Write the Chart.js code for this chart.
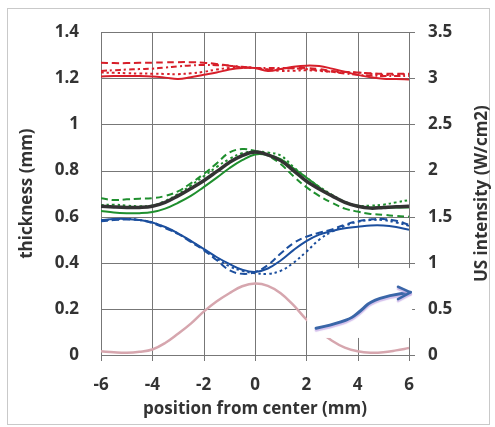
<!DOCTYPE html>
<html>
<head>
<meta charset="utf-8">
<script src="https://cdn.jsdelivr.net/npm/chart.js@4/dist/chart.umd.min.js"></script>
<style>
  html, body { margin: 0; padding: 0; background: #fff; }
  #chart { display: block; }
</style>
</head>
<body>
<canvas id="chart" width="495" height="427"></canvas>
<script>
// positions (mm), sampled every 0.5 mm
var positions = [-6, -5.5, -5, -4.5, -4, -3.5, -3, -2.5, -2, -1.5, -1, -0.5, 0,
                 0.5, 1, 1.5, 2, 2.5, 3, 3.5, 4, 4.5, 5, 5.5, 6];

// thickness (mm), left axis
var modelFit = [0.645, 0.642, 0.640, 0.640, 0.645, 0.662, 0.690, 0.722, 0.756, 0.795, 0.835, 0.865, 0.880,
                0.868, 0.843, 0.800, 0.754, 0.720, 0.690, 0.662, 0.645, 0.637, 0.640, 0.643, 0.645];

var redSolid  = [1.208, 1.210, 1.210, 1.210, 1.208, 1.203, 1.197, 1.205, 1.215, 1.225, 1.238, 1.245, 1.245,
                 1.232, 1.240, 1.250, 1.255, 1.253, 1.242, 1.228, 1.215, 1.205, 1.198, 1.197, 1.195];
var redDashed = [1.268, 1.266, 1.266, 1.267, 1.268, 1.269, 1.270, 1.270, 1.268, 1.262, 1.255, 1.248, 1.245,
                 1.238, 1.240, 1.245, 1.245, 1.240, 1.232, 1.228, 1.225, 1.222, 1.220, 1.220, 1.220];
var redDotted = [1.225, 1.224, 1.222, 1.221, 1.220, 1.219, 1.218, 1.222, 1.228, 1.238, 1.245, 1.248, 1.245,
                 1.238, 1.232, 1.233, 1.235, 1.232, 1.228, 1.226, 1.225, 1.220, 1.215, 1.216, 1.218];
var redDashDot = [1.232, 1.235, 1.238, 1.240, 1.242, 1.247, 1.252, 1.256, 1.258, 1.257, 1.255, 1.250, 1.245,
                  1.245, 1.245, 1.243, 1.240, 1.235, 1.228, 1.221, 1.215, 1.212, 1.210, 1.210, 1.210];

var greenSolid  = [0.625, 0.618, 0.615, 0.615, 0.620, 0.635, 0.660, 0.690, 0.728, 0.768, 0.810, 0.845, 0.870,
                   0.868, 0.850, 0.810, 0.770, 0.728, 0.690, 0.662, 0.645, 0.640, 0.640, 0.640, 0.640];
var greenDashed = [0.680, 0.672, 0.675, 0.678, 0.680, 0.690, 0.710, 0.745, 0.785, 0.830, 0.878, 0.893, 0.885,
                   0.865, 0.828, 0.775, 0.728, 0.690, 0.660, 0.635, 0.622, 0.612, 0.608, 0.603, 0.600];
var greenDotted = [0.650, 0.652, 0.648, 0.645, 0.648, 0.668, 0.698, 0.735, 0.775, 0.815, 0.850, 0.875, 0.882,
                   0.878, 0.865, 0.815, 0.770, 0.730, 0.695, 0.665, 0.648, 0.648, 0.652, 0.662, 0.672];

var blueSolid  = [0.585, 0.590, 0.590, 0.585, 0.575, 0.555, 0.528, 0.495, 0.460, 0.425, 0.395, 0.370, 0.360,
                  0.375, 0.410, 0.455, 0.494, 0.522, 0.538, 0.550, 0.556, 0.562, 0.562, 0.555, 0.543];
var blueDashed = [0.580, 0.585, 0.588, 0.585, 0.572, 0.550, 0.525, 0.490, 0.455, 0.412, 0.368, 0.352, 0.360,
                  0.390, 0.440, 0.485, 0.513, 0.530, 0.545, 0.565, 0.580, 0.588, 0.590, 0.582, 0.565];
var blueDotted = [0.583, 0.588, 0.590, 0.586, 0.575, 0.553, 0.527, 0.493, 0.458, 0.420, 0.385, 0.365, 0.355,
                  0.352, 0.365, 0.400, 0.448, 0.500, 0.535, 0.560, 0.578, 0.585, 0.585, 0.575, 0.560];

// US intensity (W/cm2), right axis
var usIntensity = [0.040, 0.030, 0.025, 0.035, 0.060, 0.130, 0.230, 0.340, 0.470, 0.580, 0.670, 0.745, 0.775,
                   0.750, 0.670, 0.540, 0.385, 0.260, 0.155, 0.080, 0.040, 0.025, 0.030, 0.050, 0.075];

var leftTicks = [0, 0.2, 0.4, 0.6, 0.8, 1, 1.2, 1.4];
var rightTicks = [0, 0.5, 1, 1.5, 2, 2.5, 3, 3.5];
var xTicks = [-6, -4, -2, 0, 2, 4, 6];

// hand-drawn arrow pointing at the right axis, in (mm, thickness) units
var arrowPath = [[2.38, 0.116], [3.57, 0.144], [4.16, 0.195], [4.48, 0.231], [5.26, 0.260], [6.06, 0.272]];
var arrowHead = [[5.57, 0.296], [6.06, 0.272], [5.57, 0.242]];
// white patch behind the arrow: [xmin, xmax, ymin, ymax]
var arrowPatch = [2.03, 6.12, 0.074, 0.377];

var FONT = { family: '"Open Sans", "DejaVu Sans", sans-serif', size: 17, weight: 'bold' };
var TEXT = '#333333';
var GRID = '#777777';
var TICK_LEN = 6;

function pts(values) {
    return positions.map(function(x, i) { return { x: x, y: values[i] }; });
}

function line(values, color, dash, width, axis) {
    return {
        data: pts(values),
        borderColor: color,
        borderWidth: width || 2,
        borderDash: dash || [],
        yAxisID: axis || 'y',
        pointRadius: 0,
        tension: 0.4,
        fill: false
    };
}

var RED = '#d71f2a', GREEN = '#1f8f2e', BLUE = '#1c4f9e';

var datasets = [
    line(modelFit, '#333333', [], 3.5),
    line(greenSolid, GREEN), line(greenDashed, GREEN, [7, 4]), line(greenDotted, GREEN, [2.5, 3]),
    line(blueSolid, BLUE), line(blueDashed, BLUE, [7, 4]), line(blueDotted, BLUE, [2.5, 3]),
    line(redSolid, RED), line(redDashed, RED, [7, 4]), line(redDotted, RED, [2.5, 3]),
    line(redDashDot, RED, [6, 3, 2, 3]),
    line(usIntensity, '#d6a6ae', [], 2.5, 'y2')
];

function crisp(v) { return Math.round(v) + 0.5; }

// grid lines and tick marks, placed from the scales
var gridPlugin = {
    id: 'gridLines',
    beforeDatasetsDraw: function(chart) {
        var ctx = chart.ctx, a = chart.chartArea;
        var sx = chart.scales.x, sy = chart.scales.y, sy2 = chart.scales.y2;
        ctx.save();
        ctx.lineWidth = 1;
        ctx.strokeStyle = GRID;
        ctx.beginPath();
        leftTicks.forEach(function(v) {
            var y = crisp(sy.getPixelForValue(v));
            ctx.moveTo(a.left, y);
            ctx.lineTo(a.right, y);
        });
        rightTicks.forEach(function(v) {
            var y = crisp(sy2.getPixelForValue(v));
            ctx.moveTo(a.right, y);
            ctx.lineTo(a.right + TICK_LEN, y);
        });
        xTicks.forEach(function(v) {
            var x = crisp(sx.getPixelForValue(v));
            ctx.moveTo(x, a.top);
            ctx.lineTo(x, a.bottom + TICK_LEN);
        });
        ctx.stroke();
        ctx.restore();
    }
};

var framePlugin = {
    id: 'frame',
    beforeDraw: function(chart) {
        var ctx = chart.ctx;
        ctx.save();
        ctx.strokeStyle = '#c9c9c9';
        ctx.lineWidth = 1;
        ctx.strokeRect(7.5, 8.5, 482, 416);
        ctx.restore();
    },
    afterDraw: function(chart) {
        // right axis title reads bottom-to-top like the left one
        var ctx = chart.ctx;
        var area = chart.chartArea;
        ctx.save();
        ctx.translate(482, (area.top + area.bottom) / 2);
        ctx.rotate(-Math.PI / 2);
        ctx.font = FONT.weight + ' ' + FONT.size + 'px ' + FONT.family;
        ctx.fillStyle = TEXT;
        ctx.textAlign = 'center';
        ctx.textBaseline = 'middle';
        ctx.fillText('US intensity (W/cm2)', 0, 0);
        ctx.restore();
    }
};

var arrowPlugin = {
    id: 'arrow',
    afterDatasetsDraw: function(chart) {
        var ctx = chart.ctx;
        var sx = chart.scales.x, sy = chart.scales.y;
        var px = function(p) { return [sx.getPixelForValue(p[0]), sy.getPixelForValue(p[1])]; };

        ctx.save();
        var l = sx.getPixelForValue(arrowPatch[0]), r = sx.getPixelForValue(arrowPatch[1]);
        var t = sy.getPixelForValue(arrowPatch[3]), b = sy.getPixelForValue(arrowPatch[2]);
        ctx.fillStyle = '#ffffff';
        ctx.fillRect(l, t, r - l, b - t);

        ctx.strokeStyle = '#3a66a8';
        ctx.lineWidth = 3;
        ctx.lineCap = 'round';
        ctx.lineJoin = 'round';
        ctx.shadowColor = 'rgba(200, 175, 230, 0.8)';
        ctx.shadowOffsetY = 2;
        ctx.shadowBlur = 1;

        var p = arrowPath.map(px);
        ctx.beginPath();
        ctx.moveTo(p[0][0], p[0][1]);
        for (var i = 1; i < p.length - 1; i++) {
            var mx = (p[i][0] + p[i + 1][0]) / 2, my = (p[i][1] + p[i + 1][1]) / 2;
            ctx.quadraticCurveTo(p[i][0], p[i][1], mx, my);
        }
        ctx.lineTo(p[p.length - 1][0], p[p.length - 1][1]);
        ctx.stroke();

        var h = arrowHead.map(px);
        ctx.lineWidth = 2.5;
        ctx.beginPath();
        ctx.moveTo(h[0][0], h[0][1]);
        ctx.lineTo(h[1][0], h[1][1]);
        ctx.lineTo(h[2][0], h[2][1]);
        ctx.stroke();
        ctx.restore();
    }
};

function fixTicks(list) {
    return function(scale) {
        scale.ticks = list.map(function(v) { return { value: v }; });
    };
}

new Chart(document.getElementById('chart'), {
    type: 'line',
    data: { datasets: datasets },
    options: {
        responsive: false,
        animation: false,
        events: [],
        layout: { padding: { top: 32, left: 0, right: 0, bottom: 0 } },
        plugins: { legend: { display: false }, tooltip: { enabled: false } },
        scales: {
            x: {
                type: 'linear',
                min: -6, max: 6,
                afterBuildTicks: fixTicks(xTicks),
                afterFit: function(s) { s.height = 72; },
                grid: { display: false, tickLength: TICK_LEN },
                border: { display: false },
                ticks: { font: FONT, color: TEXT, padding: 14, maxRotation: 0,
                         callback: function(v) { return String(v); } },
                title: { display: true, text: 'position from center (mm)', font: FONT, color: TEXT,
                         padding: { top: 0, bottom: 8 } }
            },
            y: {
                position: 'left',
                min: 0, max: 1.4,
                afterBuildTicks: fixTicks(leftTicks),
                afterFit: function(s) { s.width = 101; },
                grid: { display: false, drawTicks: false },
                border: { display: false },
                ticks: { font: FONT, color: TEXT, padding: 22,
                         callback: function(v) { return String(+v.toFixed(1)); } },
                title: { display: true, text: 'thickness (mm)', font: FONT, color: TEXT,
                         padding: { top: 17, bottom: 0 } }
            },
            y2: {
                position: 'right',
                min: 0, max: 3.5,
                afterBuildTicks: fixTicks(rightTicks),
                afterFit: function(s) { s.width = 86; },
                grid: { display: false, tickLength: TICK_LEN },
                border: { display: false },
                ticks: { font: FONT, color: TEXT, padding: 13,
                         callback: function(v) { return String(+v.toFixed(1)); } }
            }
        }
    },
    plugins: [framePlugin, gridPlugin, arrowPlugin]
});
</script>
</body>
</html>
